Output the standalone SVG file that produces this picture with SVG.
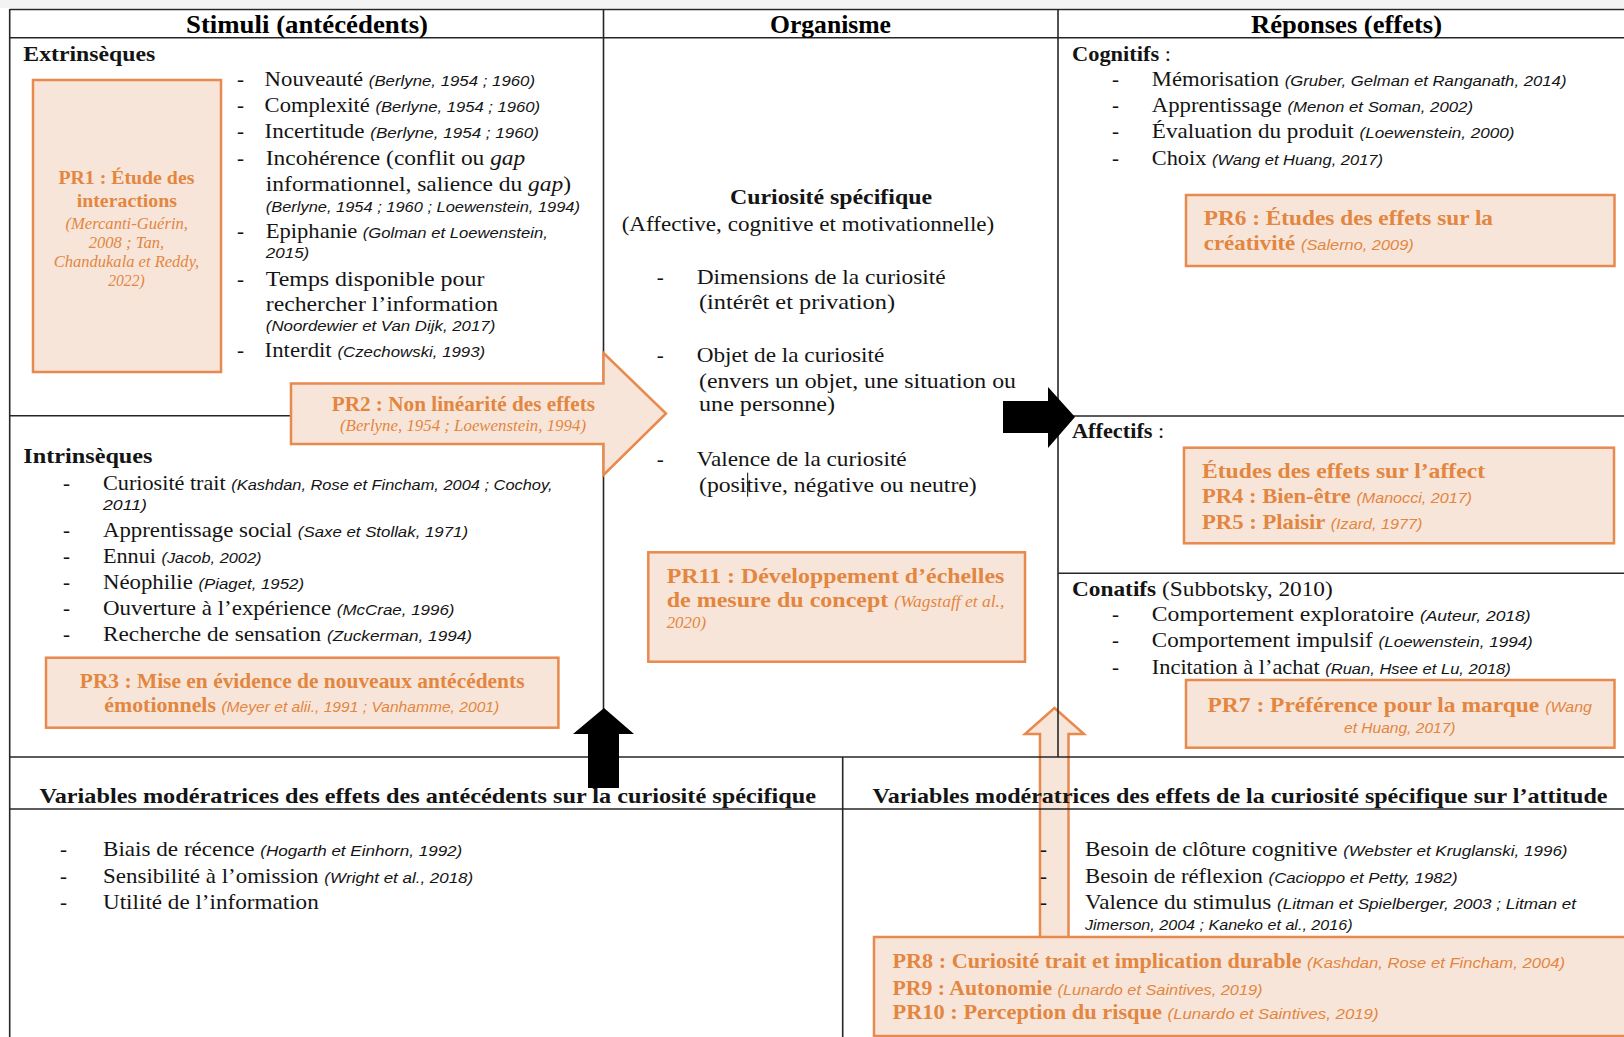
<svg xmlns="http://www.w3.org/2000/svg" width="1624" height="1037" viewBox="0 0 1624 1037">
<style>
.t{font-family:"Liberation Serif","Times New Roman",serif;font-size:21px;fill:#141414}
.b{font-weight:bold}
.c{font-family:"Liberation Sans",Arial,sans-serif;font-style:italic;font-size:15.5px;font-weight:normal}
.gi{font-style:italic}
.h{font-family:"Liberation Serif","Times New Roman",serif;font-weight:bold;font-size:25px;fill:#000}
.o{font-family:"Liberation Serif","Times New Roman",serif;font-weight:bold;font-size:21px;fill:#E3863F}
.oi{font-family:"Liberation Serif","Times New Roman",serif;font-style:italic;font-weight:normal;font-size:16px}
.oc{font-family:"Liberation Sans",Arial,sans-serif;font-style:italic;font-weight:normal;font-size:15px}
.box{fill:#F8E5D9;stroke:#E8894E;stroke-width:2.5}
.ln{stroke:#262626;stroke-width:1.6;fill:none}
.blk{fill:#000}
</style>
<rect x="0" y="0" width="1624" height="8" fill="#f3f3f3"/>
<rect x="0" y="8" width="1624" height="1029" fill="#fff"/>

<g id="connectors">
  <polygon id="arrow-moderation-2" class="box" points="1054.5,708 1084,734 1068.5,734 1068.5,940 1040,940 1040,734 1025,734"/>
</g>

<g id="grid">
  <line class="ln" x1="9.7" y1="9.5" x2="1624" y2="9.5" stroke-width="2.2"/>
  <line class="ln" x1="9.7" y1="37.7" x2="1624" y2="37.7"/>
  <line class="ln" x1="9.7" y1="9" x2="9.7" y2="1037"/>
  <line class="ln" x1="603.5" y1="9" x2="603.5" y2="757"/>
  <line class="ln" x1="1058" y1="9" x2="1058" y2="757"/>
  <line class="ln" x1="9.7" y1="415.7" x2="603.5" y2="415.7"/>
  <line class="ln" x1="1058" y1="416" x2="1624" y2="416"/>
  <line class="ln" x1="1058" y1="573.3" x2="1624" y2="573.3"/>
  <line class="ln" x1="9.7" y1="757" x2="1624" y2="757"/>
  <line class="ln" x1="9.7" y1="809" x2="1624" y2="809"/>
  <line class="ln" x1="842.7" y1="757" x2="842.7" y2="1037"/>
</g>

<g id="connectors-main">
  <polygon id="arrow-pr2" class="box" points="291,383.5 603.5,383.5 603.5,353 666,413.5 603.5,475 603.5,444 291,444"/>
  <polygon id="arrow-o-r" class="blk" points="1003,401 1048,401 1048,387 1075,417 1048,448 1048,433 1003,433"/>
  <polygon id="arrow-moderation-1" class="blk" points="604,708 634,734 619,734 619,788 588,788 588,734 573,734"/>
</g>

<g id="header-stimuli"><text class="h" x="186" y="33" textLength="242" lengthAdjust="spacingAndGlyphs">Stimuli (antécédents)</text></g>
<g id="header-organisme"><text class="h" x="770" y="33" textLength="121" lengthAdjust="spacingAndGlyphs">Organisme</text></g>
<g id="header-reponses"><text class="h" x="1251" y="33" textLength="191" lengthAdjust="spacingAndGlyphs">Réponses (effets)</text></g>

<g id="extrinseques">
  <text class="t b" x="23.3" y="61" textLength="132" lengthAdjust="spacingAndGlyphs">Extrinsèques</text>
  <g class="t">
    <text x="237" y="86">-</text><text x="237" y="112">-</text><text x="237" y="138">-</text><text x="237" y="165">-</text>
    <text x="237" y="238">-</text><text x="237" y="286">-</text><text x="237" y="357">-</text>
  </g>
  <text class="t" x="264.6" y="86" textLength="270.4" lengthAdjust="spacingAndGlyphs">Nouveauté <tspan class="c">(Berlyne, 1954 ; 1960)</tspan></text>
  <text class="t" x="264.6" y="112" textLength="275.5" lengthAdjust="spacingAndGlyphs">Complexité <tspan class="c">(Berlyne, 1954 ; 1960)</tspan></text>
  <text class="t" x="264.6" y="138" textLength="274.3" lengthAdjust="spacingAndGlyphs">Incertitude <tspan class="c">(Berlyne, 1954 ; 1960)</tspan></text>
  <text class="t" x="265.8" y="165" textLength="259.5" lengthAdjust="spacingAndGlyphs">Incohérence (conflit ou <tspan class="gi">gap</tspan></text>
  <text class="t" x="265.8" y="191" textLength="305.4" lengthAdjust="spacingAndGlyphs">informationnel, salience du <tspan class="gi">gap</tspan>)</text>
  <text class="t c" x="265.8" y="212" textLength="314.2" lengthAdjust="spacingAndGlyphs">(Berlyne, 1954 ; 1960 ; Loewenstein, 1994)</text>
  <text class="t" x="265.8" y="238" textLength="282" lengthAdjust="spacingAndGlyphs">Epiphanie <tspan class="c">(Golman et Loewenstein,</tspan></text>
  <text class="t c" x="265.8" y="258" textLength="43.5" lengthAdjust="spacingAndGlyphs">2015)</text>
  <text class="t" x="265.8" y="286" textLength="218.6" lengthAdjust="spacingAndGlyphs">Temps disponible pour</text>
  <text class="t" x="265.8" y="311" textLength="232.3" lengthAdjust="spacingAndGlyphs">rechercher l’information</text>
  <text class="t c" x="265.8" y="331" textLength="229.5" lengthAdjust="spacingAndGlyphs">(Noordewier et Van Dijk, 2017)</text>
  <text class="t" x="264.6" y="357" textLength="220.6" lengthAdjust="spacingAndGlyphs">Interdit <tspan class="c">(Czechowski, 1993)</tspan></text>
</g>

<g id="pr1">
  <rect class="box" x="33" y="80" width="188" height="292"/>
  <text class="o" style="font-size:18.6px" x="58.4" y="184" textLength="136" lengthAdjust="spacingAndGlyphs">PR1 : Étude des</text>
  <text class="o" style="font-size:18.6px" x="76.7" y="207" textLength="100.4" lengthAdjust="spacingAndGlyphs">interactions</text>
  <text class="o oi" x="65.4" y="229" textLength="122.6" lengthAdjust="spacingAndGlyphs">(Mercanti-Guérin,</text>
  <text class="o oi" x="88.7" y="248" textLength="75.5" lengthAdjust="spacingAndGlyphs">2008 ; Tan,</text>
  <text class="o oi" x="53.7" y="267" textLength="145.5" lengthAdjust="spacingAndGlyphs">Chandukala et Reddy,</text>
  <text class="o oi" x="108.2" y="286" textLength="36.5" lengthAdjust="spacingAndGlyphs">2022)</text>
</g>

<g id="pr2">
  <text class="o" x="331.7" y="411" textLength="263.3" lengthAdjust="spacingAndGlyphs">PR2 : Non linéarité des effets</text>
  <text class="o oi" x="340" y="431" textLength="246" lengthAdjust="spacingAndGlyphs">(Berlyne, 1954 ; Loewenstein, 1994)</text>
</g>

<g id="intrinseques">
  <text class="t b" x="23.3" y="463" textLength="129.2" lengthAdjust="spacingAndGlyphs">Intrinsèques</text>
  <g class="t">
    <text x="63" y="490">-</text><text x="63" y="536.7">-</text><text x="63" y="563.3">-</text><text x="63" y="589.3">-</text><text x="63" y="615">-</text><text x="63" y="640.7">-</text>
  </g>
  <text class="t" x="103" y="490" textLength="449.5" lengthAdjust="spacingAndGlyphs">Curiosité trait <tspan class="c">(Kashdan, Rose et Fincham, 2004 ; Cochoy,</tspan></text>
  <text class="t c" x="103" y="510" textLength="44" lengthAdjust="spacingAndGlyphs">2011)</text>
  <text class="t" x="103" y="536.7" textLength="365" lengthAdjust="spacingAndGlyphs">Apprentissage social <tspan class="c">(Saxe et Stollak, 1971)</tspan></text>
  <text class="t" x="103" y="563.3" textLength="158.5" lengthAdjust="spacingAndGlyphs">Ennui <tspan class="c">(Jacob, 2002)</tspan></text>
  <text class="t" x="103" y="589.3" textLength="201" lengthAdjust="spacingAndGlyphs">Néophilie <tspan class="c">(Piaget, 1952)</tspan></text>
  <text class="t" x="103" y="615" textLength="351.5" lengthAdjust="spacingAndGlyphs">Ouverture à l’expérience <tspan class="c">(McCrae, 1996)</tspan></text>
  <text class="t" x="103" y="640.7" textLength="369" lengthAdjust="spacingAndGlyphs">Recherche de sensation <tspan class="c">(Zuckerman, 1994)</tspan></text>
</g>

<g id="pr3">
  <rect class="box" x="46" y="657.7" width="512.4" height="70"/>
  <text class="o" x="79.8" y="688.3" textLength="444.7" lengthAdjust="spacingAndGlyphs">PR3 : Mise en évidence de nouveaux antécédents</text>
  <text class="o" x="104.3" y="711.7" textLength="394.9" lengthAdjust="spacingAndGlyphs">émotionnels <tspan class="oc">(Meyer et alii., 1991 ; Vanhamme, 2001)</tspan></text>
</g>

<g id="organisme">
  <text class="t b" x="730" y="204" textLength="202" lengthAdjust="spacingAndGlyphs">Curiosité spécifique</text>
  <text class="t" x="621.7" y="230.5" textLength="372.6" lengthAdjust="spacingAndGlyphs">(Affective, cognitive et motivationnelle)</text>
  <g class="t"><text x="656.7" y="284">-</text><text x="656.7" y="361.7">-</text><text x="656.7" y="465.7">-</text></g>
  <text class="t" x="696.7" y="284" textLength="249" lengthAdjust="spacingAndGlyphs">Dimensions de la curiosité</text>
  <text class="t" x="699" y="309" textLength="196" lengthAdjust="spacingAndGlyphs">(intérêt et privation)</text>
  <text class="t" x="696.7" y="361.7" textLength="187.6" lengthAdjust="spacingAndGlyphs">Objet de la curiosité</text>
  <text class="t" x="699" y="387.7" textLength="317" lengthAdjust="spacingAndGlyphs">(envers un objet, une situation ou</text>
  <text class="t" x="699" y="410.7" textLength="136" lengthAdjust="spacingAndGlyphs">une personne)</text>
  <text class="t" x="696.7" y="465.7" textLength="210" lengthAdjust="spacingAndGlyphs">Valence de la curiosité</text>
  <text class="t" x="699" y="491.7" textLength="277.7" lengthAdjust="spacingAndGlyphs">(positive, négative ou neutre)</text>
  <line x1="747.7" y1="472.7" x2="747.7" y2="496.7" stroke="#000" stroke-width="1"/>
</g>

<g id="pr11">
  <rect class="box" x="648.3" y="552.3" width="376.7" height="109.4"/>
  <text class="o" style="font-size:22px" x="666.7" y="582.7" textLength="337.6" lengthAdjust="spacingAndGlyphs">PR11 : Développement d’échelles</text>
  <text class="o" style="font-size:22px" x="666.7" y="607.3" textLength="337.6" lengthAdjust="spacingAndGlyphs">de mesure du concept <tspan class="oi">(Wagstaff et al.,</tspan></text>
  <text class="o oi" x="666.7" y="627.7" textLength="39.3" lengthAdjust="spacingAndGlyphs">2020)</text>
</g>

<g id="cognitifs">
  <text class="t" x="1072" y="61" textLength="99" lengthAdjust="spacingAndGlyphs"><tspan class="b">Cognitifs</tspan> :</text>
  <g class="t"><text x="1112" y="86">-</text><text x="1112" y="112.3">-</text><text x="1112" y="138.3">-</text><text x="1112" y="165">-</text></g>
  <text class="t" x="1151.8" y="86" textLength="414.7" lengthAdjust="spacingAndGlyphs">Mémorisation <tspan class="c">(Gruber, Gelman et Ranganath, 2014)</tspan></text>
  <text class="t" x="1151.8" y="112.3" textLength="321.2" lengthAdjust="spacingAndGlyphs">Apprentissage <tspan class="c">(Menon et Soman, 2002)</tspan></text>
  <text class="t" x="1151.8" y="138.3" textLength="362.7" lengthAdjust="spacingAndGlyphs">Évaluation du produit <tspan class="c">(Loewenstein, 2000)</tspan></text>
  <text class="t" x="1151.8" y="165" textLength="231.2" lengthAdjust="spacingAndGlyphs">Choix <tspan class="c">(Wang et Huang, 2017)</tspan></text>
</g>

<g id="pr6">
  <rect class="box" x="1186" y="195" width="428.5" height="71"/>
  <text class="o" x="1203.8" y="225" textLength="289.2" lengthAdjust="spacingAndGlyphs">PR6 : Études des effets sur la</text>
  <text class="o" x="1203.8" y="250" textLength="209.9" lengthAdjust="spacingAndGlyphs">créativité <tspan class="oc">(Salerno, 2009)</tspan></text>
</g>

<g id="affectifs">
  <text class="t" x="1072" y="438.3" textLength="92.3" lengthAdjust="spacingAndGlyphs"><tspan class="b">Affectifs</tspan> :</text>
</g>

<g id="pr4-pr5">
  <rect class="box" x="1184" y="447.7" width="430" height="95.6"/>
  <text class="o" x="1202" y="478.3" textLength="283" lengthAdjust="spacingAndGlyphs">Études des effets sur l’affect</text>
  <text class="o" x="1202" y="503.3" textLength="270" lengthAdjust="spacingAndGlyphs">PR4 : Bien-être <tspan class="oc">(Manocci, 2017)</tspan></text>
  <text class="o" x="1202" y="529.3" textLength="220.5" lengthAdjust="spacingAndGlyphs">PR5 : Plaisir <tspan class="oc">(Izard, 1977)</tspan></text>
</g>

<g id="conatifs">
  <text class="t" x="1072" y="596" textLength="260.8" lengthAdjust="spacingAndGlyphs"><tspan class="b">Conatifs</tspan> (Subbotsky, 2010)</text>
  <g class="t"><text x="1112" y="620.7">-</text><text x="1112" y="647.3">-</text><text x="1112" y="674">-</text></g>
  <text class="t" x="1151.8" y="620.7" textLength="378.8" lengthAdjust="spacingAndGlyphs">Comportement exploratoire <tspan class="c">(Auteur, 2018)</tspan></text>
  <text class="t" x="1151.8" y="647.3" textLength="381" lengthAdjust="spacingAndGlyphs">Comportement impulsif <tspan class="c">(Loewenstein, 1994)</tspan></text>
  <text class="t" x="1151.8" y="674" textLength="359" lengthAdjust="spacingAndGlyphs">Incitation à l’achat <tspan class="c">(Ruan, Hsee et Lu, 2018)</tspan></text>
</g>

<g id="pr7">
  <rect class="box" x="1186" y="680" width="428.5" height="67.7"/>
  <text class="o" style="font-size:22px" x="1207.5" y="711.7" textLength="384.5" lengthAdjust="spacingAndGlyphs">PR7 : Préférence pour la marque <tspan class="oc">(Wang</tspan></text>
  <text class="o oc" x="1344" y="732.7" textLength="111.5" lengthAdjust="spacingAndGlyphs">et Huang, 2017)</text>
</g>

<g id="moderatrices-antecedents">
  <text class="t b" x="39.4" y="803" textLength="776.6" lengthAdjust="spacingAndGlyphs">Variables modératrices des effets des antécédents sur la curiosité spécifique</text>
  <g class="t"><text x="60" y="856">-</text><text x="60" y="882.7">-</text><text x="60" y="909.3">-</text></g>
  <text class="t" x="103" y="856" textLength="359.3" lengthAdjust="spacingAndGlyphs">Biais de récence <tspan class="c">(Hogarth et Einhorn, 1992)</tspan></text>
  <text class="t" x="103" y="882.7" textLength="370.2" lengthAdjust="spacingAndGlyphs">Sensibilité à l’omission <tspan class="c">(Wright et al., 2018)</tspan></text>
  <text class="t" x="103" y="909.3" textLength="215.7" lengthAdjust="spacingAndGlyphs">Utilité de l’information</text>
</g>

<g id="moderatrices-attitude">
  <text class="t b" x="872.5" y="803" textLength="735" lengthAdjust="spacingAndGlyphs">Variables modératrices des effets de la curiosité spécifique sur l’attitude</text>
  <g class="t"><text x="1040" y="856">-</text><text x="1040" y="882.7">-</text><text x="1040" y="909.3">-</text></g>
  <text class="t" x="1085" y="856" textLength="482.5" lengthAdjust="spacingAndGlyphs">Besoin de clôture cognitive <tspan class="c">(Webster et Kruglanski, 1996)</tspan></text>
  <text class="t" x="1085" y="882.7" textLength="372.5" lengthAdjust="spacingAndGlyphs">Besoin de réflexion <tspan class="c">(Cacioppo et Petty, 1982)</tspan></text>
  <text class="t" x="1085" y="909.3" textLength="491" lengthAdjust="spacingAndGlyphs">Valence du stimulus <tspan class="c">(Litman et Spielberger, 2003 ; Litman et</tspan></text>
  <text class="t c" x="1085" y="930" textLength="267.5" lengthAdjust="spacingAndGlyphs">Jimerson, 2004 ; Kaneko et al., 2016)</text>
</g>

<g id="pr8-pr10">
  <rect class="box" x="874" y="937" width="760" height="99"/>
  <text class="o" style="font-size:20px" x="892.5" y="968.3" textLength="672.5" lengthAdjust="spacingAndGlyphs">PR8 : Curiosité trait et implication durable <tspan class="oc">(Kashdan, Rose et Fincham, 2004)</tspan></text>
  <text class="o" style="font-size:20px" x="892.5" y="995" textLength="370" lengthAdjust="spacingAndGlyphs">PR9 : Autonomie <tspan class="oc">(Lunardo et Saintives, 2019)</tspan></text>
  <text class="o" style="font-size:20px" x="892.5" y="1019.3" textLength="486" lengthAdjust="spacingAndGlyphs">PR10 : Perception du risque <tspan class="oc">(Lunardo et Saintives, 2019)</tspan></text>
</g>
</svg>
